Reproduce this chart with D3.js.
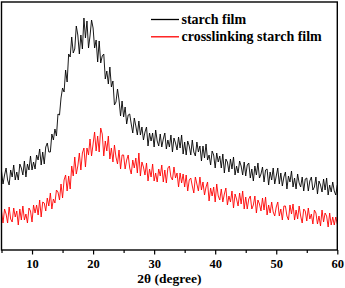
<!DOCTYPE html>
<html>
<head>
<meta charset="utf-8">
<script src="https://cdn.jsdelivr.net/npm/d3@7"></script>
<style>
  html, body { margin: 0; padding: 0; background: #fff; }
  svg { display: block; }
  text { font-family: "Liberation Serif", "Times New Roman", serif; font-weight: bold; fill: #000; }
</style>
</head>
<body>
<svg id="chart" width="345" height="288"></svg>
<script>
// ---- data ----
const angleStart = 5;
const angleStep = 0.25;
const seriesNames = ["starch film", "crosslinking starch film"];
const seriesColors = ["#000000", "#ff0000"];
const xTickValues = [10, 20, 30, 40, 50, 60];
const xMinorTickValues = [5, 15, 25, 35, 45, 55];

const starchFilm = [
  79,66,75,82, 70,65,80,73, 85,70,78,70, 86,82,75,89, 73,86,80,94,
  80,88,81,95, 90,101,85,98, 86,103,107,98, 98,116,110,121, 114,136,135,152,
  162,158,180,168, 196,193,213,197, 201,224,215,196, 215,201,232,212, 229,202,214,230,
  222,202,210,188, 209,187,194,196, 171,179,166,183, 163,169,145,148, 161,150,134,149,
  133,143,126,135, 136,126,117,132, 124,115,129,115, 123,110,118,123, 104,117,109,117,
  103,120,109,104, 116,103,111,117, 101,110,103,115, 98,112,107,100, 113,102,115,96,
  108,95,109,104, 95,110,98,94, 108,98,104,89, 104,92,106,90, 95,85,99,95,
  82,97,88,94, 82,96,77,91, 88,78,91,81, 93,75,84,77, 89,84,75,88,
  74,85,87,72, 81,69,84,75, 87,72,76,83, 68,80,81,65, 78,70,82,66,
  74,82,66,77, 64,73,78,61, 74,68,79,63, 72,61,76,67, 63,73,59,71,
  72,59,69,73, 60,63,73,56, 69,65,58,71, 60,72,55,65, 58,68,59,55,
  65
];

const crosslinkingFilm = [
  39,27,41,36, 27,43,31,28, 42,33,39,25, 41,30,44,30, 36,27,42,39,
  28,45,37,45, 35,50,33,48, 47,39,52,44, 57,41,51,47, 60,58,50,66,
  52,70,75,59, 74,61,84,74, 93,76,84,97, 80,97,102,83, 102,95,111,94,
  106,118,99,114, 98,122,116,94, 109,99,114,91, 102,88,105,93, 86,100,81,95,
  95,81,90,95, 82,76,90,82, 92,77,97,74, 88,83,75,87, 69,81,73,86,
  69,77,68,81, 74,85,68,80, 67,82,84,73, 70,83,72,77, 63,77,67,76,
  63,75,59,70, 72,64,57,73, 66,59,73,60, 68,55,63,68, 49,62,54,63,
  48,66,54,50, 61,48,56,62, 45,54,48,59, 42,56,51,44, 57,46,59,41,
  53,41,51,54, 41,45,54,37, 50,46,39,52, 40,53,35,45, 37,48,38,34,
  43,48,34,41, 30,44,44,34, 30,45,36,46, 30,40,31,44, 34,27,41,39,
  29,42,31,36, 26,40,37,26, 34,24,40,28, 37,34,23,37, 25,33,25,33,
  26
];

const seriesValues = [starchFilm, crosslinkingFilm];

// ---- layout ----
const svg = d3.select("#chart");
const plot = { left: 1.5, right: 337.3, top: 2, bottom: 250 };

const x = d3.scaleLinear().domain([5, 60]).range([plot.left, plot.right]);
const y = d3.scaleLinear().domain([0, 248]).range([plot.bottom, plot.top]);

svg.append("clipPath").attr("id", "clip")
  .append("rect")
  .attr("x", plot.left).attr("y", plot.top)
  .attr("width", plot.right - plot.left).attr("height", plot.bottom - plot.top);

const line = d3.line()
  .x((d, i) => x(angleStart + i * angleStep))
  .y(d => y(d));

const g = svg.append("g").attr("clip-path", "url(#clip)");
seriesValues.forEach((vals, k) => {
  g.append("path")
    .datum(vals)
    .attr("fill", "none")
    .attr("stroke", seriesColors[k])
    .attr("stroke-width", 0.9)
    .attr("stroke-linejoin", "round")
    .attr("d", line);
});

// frame
svg.append("rect")
  .attr("x", plot.left).attr("y", plot.top)
  .attr("width", plot.right - plot.left).attr("height", plot.bottom - plot.top)
  .attr("fill", "none").attr("stroke", "#000").attr("stroke-width", 1.4);

// x axis
const xAxis = d3.axisBottom(x).tickValues(xTickValues).tickSize(4.5).tickPadding(4.3).tickFormat(d3.format("d"));
const ax = svg.append("g").attr("transform", `translate(0,${plot.bottom})`).call(xAxis);
ax.select(".domain").remove();
ax.selectAll(".tick line").attr("stroke", "#000").attr("stroke-width", 1.2);
ax.selectAll(".tick text")
  .attr("font-family", "'Liberation Serif', 'Times New Roman', serif")
  .attr("font-weight", "bold").attr("font-size", 12.5).attr("fill", "#000");

const xMinor = d3.axisBottom(x).tickValues(xMinorTickValues).tickSize(3).tickFormat("");
const axm = svg.append("g").attr("transform", `translate(0,${plot.bottom})`).call(xMinor);
axm.select(".domain").remove();
axm.selectAll(".tick line").attr("stroke", "#000").attr("stroke-width", 1.2);

// axis title
svg.append("text")
  .attr("x", (plot.left + plot.right) / 2)
  .attr("y", 283)
  .attr("text-anchor", "middle")
  .attr("font-size", 13.5)
  .text("2θ (degree)");

// legend
const legend = svg.append("g");
seriesNames.forEach((name, k) => {
  const ly = 19.5 + k * 17.3;
  legend.append("line")
    .attr("x1", 151).attr("x2", 179)
    .attr("y1", ly).attr("y2", ly)
    .attr("stroke", seriesColors[k]).attr("stroke-width", 1.3);
  legend.append("text")
    .attr("x", 181.5).attr("y", ly + 4.5)
    .attr("font-size", 14)
    .text(name);
});
</script>
</body>
</html>
